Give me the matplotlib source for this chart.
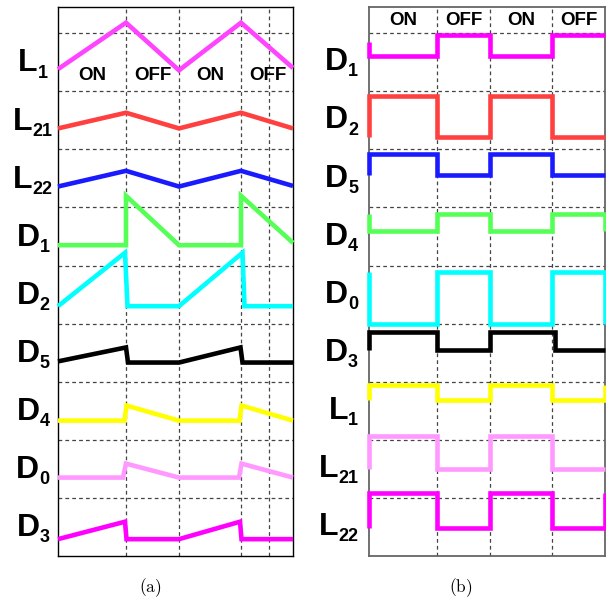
import matplotlib
matplotlib.use("Agg")
import matplotlib.pyplot as plt

# ---------------- data ----------------
# panel (a): piecewise-linear waveforms (time, level)
a_labels = [("D", "3"), ("D", "0"), ("D", "4"), ("D", "5"), ("D", "2"), ("D", "1"),
            ("L", "22"), ("L", "21"), ("L", "1")]
a_colors = ["#FF00FF", "#FF99FF", "#FFFF00", "#000000", "#00FFFF", "#55FF55",
            "#1A1AFF", "#FF4040", "#FF44FF"]
a_t = [
    [0, 6.7, 6.85, 12.1, 18.2, 18.35, 23.5],          # D3
    [0, 6.5, 6.8, 12.1, 18.1, 18.35, 23.5],           # D0
    [0, 6.65, 6.85, 12.1, 18.15, 18.35, 23.5],        # D4
    [0, 6.8, 7.0, 12.1, 18.25, 18.45, 23.5],          # D5
    [0, 6.7, 6.95, 12.1, 18.45, 18.65, 23.5],         # D2
    [0, 6.8, 6.8, 12.1, 18.3, 18.3, 23.5],            # D1
    [0, 6.8, 12.1, 18.3, 23.5],                       # L22
    [0, 6.8, 12.1, 18.3, 23.5],                       # L21
    [0, 6.8, 12.1, 18.3, 23.5],                       # L1
]
a_v = [
    [0.29, 0.59, 0.29, 0.29, 0.59, 0.29, 0.29],
    [1.35, 1.35, 1.59, 1.35, 1.35, 1.59, 1.35],
    [2.33, 2.33, 2.59, 2.33, 2.33, 2.59, 2.33],
    [3.35, 3.59, 3.33, 3.33, 3.59, 3.33, 3.33],
    [4.30, 5.22, 4.30, 4.30, 5.22, 4.30, 4.30],
    [5.35, 5.35, 6.20, 5.35, 5.35, 6.20, 5.39],
    [6.36, 6.63, 6.36, 6.63, 6.37],
    [7.36, 7.63, 7.36, 7.63, 7.36],
    [8.38, 9.18, 8.36, 9.18, 8.40],
]
a_xgrid = [6.8, 12.1, 18.3, 21.1]

# panel (b): step waveforms
b_labels = [("L", "22"), ("L", "21"), ("L", "1"), ("D", "3"), ("D", "0"), ("D", "4"),
            ("D", "5"), ("D", "2"), ("D", "1")]
b_colors = ["#FF00FF", "#FF99FF", "#FFFF00", "#000000", "#00FFFF", "#55FF55",
            "#1A1AFF", "#FF4040", "#FF00FF"]
b_t = [
    [0, 0, 6.8, 6.8, 12.1, 12.1, 18.3, 18.3, 23.6, 23.6],   # L22
    [0, 0, 6.8, 6.8, 12.1, 12.1, 18.3, 18.3, 23.6],         # L21
    [0, 0, 6.8, 6.8, 12.1, 12.1, 18.3, 18.3, 23.6, 23.6],   # L1
    [0, 0, 6.8, 6.8, 12.1, 12.1, 18.6, 18.6, 23.6],         # D3
    [0, 0, 6.8, 6.8, 12.1, 12.1, 18.3, 18.3, 23.6, 23.6],   # D0
    [0, 0, 6.8, 6.8, 12.1, 12.1, 18.3, 18.3, 23.6, 23.6],   # D4
    [0, 0, 6.8, 6.8, 12.1, 12.1, 18.3, 18.3, 23.6],         # D5
    [0, 0, 6.8, 6.8, 12.1, 12.1, 18.3, 18.3, 23.6],         # D2
    [0, 0, 6.8, 6.8, 12.1, 12.1, 18.3, 18.3, 23.6],         # D1
]
b_v = [
    [0.49, 1.09, 1.09, 0.49, 0.49, 1.09, 1.09, 0.49, 0.49, 1.09],
    [1.49, 2.07, 2.07, 1.49, 1.49, 2.07, 2.07, 1.49, 1.49],
    [2.68, 2.94, 2.94, 2.68, 2.68, 2.94, 2.94, 2.68, 2.68, 2.94],
    [3.54, 3.85, 3.85, 3.54, 3.54, 3.85, 3.85, 3.54, 3.54],
    [4.89, 4.00, 4.00, 4.89, 4.89, 4.00, 4.00, 4.89, 4.89, 4.00],
    [5.88, 5.59, 5.59, 5.88, 5.88, 5.59, 5.59, 5.88, 5.88, 5.59],
    [6.55, 6.92, 6.92, 6.55, 6.55, 6.92, 6.92, 6.55, 6.55],
    [7.22, 7.92, 7.92, 7.22, 7.22, 7.92, 7.92, 7.22, 7.22],
    [8.84, 8.60, 8.60, 8.96, 8.96, 8.60, 8.60, 8.96, 8.96],
]
b_xgrid = [6.8, 12.1, 18.3]

state_text = ["ON", "OFF", "ON", "OFF"]
state_edges = [0, 6.8, 12.1, 18.3, 23.6]
ygrid = [1, 2, 3, 4, 5, 6, 7, 8, 9]

# ---------------- figure ----------------
plt.rcParams['mathtext.fontset'] = 'cm'
fig = plt.figure(figsize=(6.06, 6.02), dpi=100)
LW = 3.3
FONT = "Liberation Sans"
GRID = dict(color="#444444", lw=0.9, ls=(0, (3.0, 2.5)))


def setup(ax, xmax, xgrid):
    ax.set_xlim(0, xmax)
    ax.set_ylim(0, 9.45)
    ax.set_xticks(xgrid)
    ax.set_yticks(ygrid)
    ax.tick_params(length=0, labelbottom=False, labelleft=False)
    ax.grid(True, **GRID)
    ax.set_axisbelow(True)


def put_label(ax, xfig, y, main, sub, align):
    renderer = fig.canvas.get_renderer()
    tr = matplotlib.transforms.blended_transform_factory(fig.transFigure, ax.transData)
    tm = fig.text(xfig, y, main, fontsize=23, fontweight="bold", family=FONT,
                  ha="left", va="baseline", transform=tr)
    ts = ax.annotate(sub, xy=(1, 0), xycoords=tm, xytext=(0.0, 0.6),
                     textcoords="offset points", fontsize=13, fontweight="bold",
                     family=FONT, ha="left", va="baseline", annotation_clip=False)
    fig.canvas.draw()
    bm = tm.get_window_extent(renderer)
    bs = ts.get_window_extent(renderer)
    total = (bs.x1 - bm.x0) / fig.bbox.width
    x0 = xfig - total / 2 if align == "center" else xfig - total
    tm.set_x(x0)


# panel (a)
axa = fig.add_axes([58 / 606, 46 / 602, 235 / 606, 549 / 602])
setup(axa, 23.5, a_xgrid)
for t, v, c in zip(a_t, a_v, a_colors):
    axa.plot(t, v, color=c, lw=LW, solid_joinstyle="miter", solid_capstyle="butt",
             clip_on=False, zorder=3)
for s, e0, e1 in zip(state_text, state_edges[:-1], state_edges[1:]):
    axa.text((e0 + e1) / 2, 8.27, s, fontsize=13.5, fontweight="bold", family=FONT,
             ha="center", va="center", zorder=5)
for spine in axa.spines.values():
    spine.set_color("black")
    spine.set_linewidth(1.0)

# panel (b)
axb = fig.add_axes([369 / 606, 46 / 602, 236 / 606, 549 / 602])
setup(axb, 23.6, b_xgrid)
for t, v, c in zip(b_t, b_v, b_colors):
    axb.plot(t, v, color=c, lw=LW, solid_joinstyle="miter", solid_capstyle="butt",
             clip_on=False, zorder=3)
for s, e0, e1 in zip(state_text, state_edges[:-1], state_edges[1:]):
    axb.text((e0 + e1) / 2, 9.225, s, fontsize=13.5, fontweight="bold", family=FONT,
             ha="center", va="center", zorder=5)
for spine in axb.spines.values():
    spine.set_color("#666666")
    spine.set_linewidth(1.3)

for k, (m, s) in enumerate(a_labels):
    put_label(axa, 33 / 606, k + 0.34, m, s, "center")
for k, (m, s) in enumerate(b_labels):
    put_label(axb, 358 / 606, k + 0.36, m, s, "right")

fig.text(150 / 606, 1 - 588 / 602, r"$\mathrm{(a)}$", fontsize=12.5, ha="center", va="center")
fig.text(461 / 606, 1 - 588 / 602, r"$\mathrm{(b)}$", fontsize=12.5, ha="center", va="center")

fig.savefig("out.png", dpi=100)
